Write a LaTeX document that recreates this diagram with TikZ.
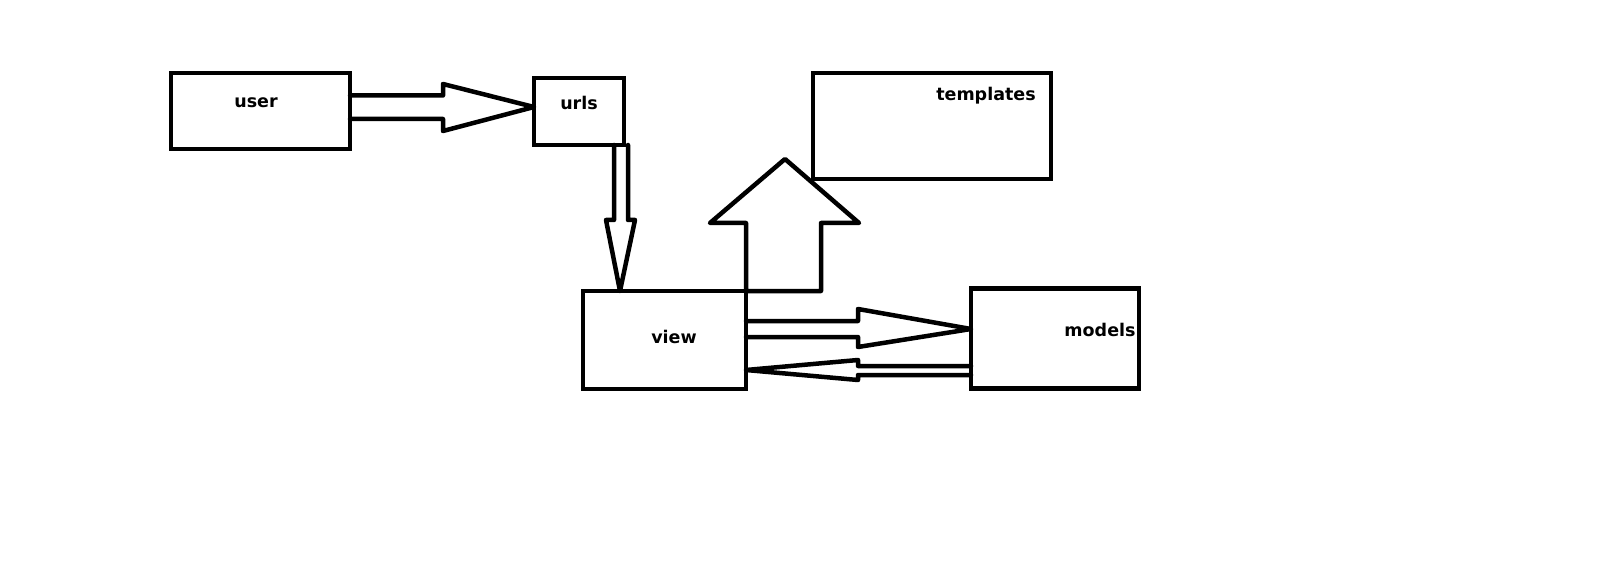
\documentclass[tikz,border=0pt]{standalone}
\usepackage{fontspec}
\setmainfont{DejaVu Sans}
\usetikzlibrary{calc}
\begin{document}
\begin{tikzpicture}[x=1pt,y=-1pt,
  box/.style={draw=black,line width=4.5pt,inner sep=0pt,outer sep=0pt,rectangle},
  lbl/.style={anchor=base,inner sep=0pt,font=\bfseries\fontsize{17.5}{20}\selectfont},
  fatarrow/.style={draw=black,line width=4.5pt,line join=round,line cap=round}]
\useasboundingbox (0,0) rectangle (1614,564);
\fill[white] (0,0) rectangle (1614,564);
% boxes
\node[box,minimum width=179pt,minimum height=76pt] (user) at (260.5,111) {};
\node[box,minimum width=90pt,minimum height=67pt] (urls) at (579,111.5) {};
\node[box,minimum width=238pt,minimum height=106pt] (templates) at (932,126) {};
\node[box,minimum width=163pt,minimum height=98pt] (view) at (664.5,340) {};
\node[box,minimum width=168pt,minimum height=100pt] (models) at (1055,338.5) {};
% labels
\node[lbl] (userlbl) at (256,108) {user};
\node[lbl] (urlslbl) at (579,110) {urls};
\node[lbl] (templateslbl) at (986,101) {templates};
\node[lbl] (viewlbl) at (674,343) {view};
\node[lbl] (modelslbl) at (1100,336) {models};
% user -> urls
\draw[fatarrow] (user.east |- 0,95.5) -- (443,95.5) -- (443,84) -- (urls.west |- 0,107)
  -- (443,131) -- (443,119) -- (user.east |- 0,119);
% urls -> view
\draw[fatarrow] (614,0 |- urls.south) -- (614,220) -- (606,220) -- (620,0 |- view.north)
  -- (635,220) -- (628,220) -- (628,0 |- urls.south);
% view -> templates
\draw[fatarrow] (view.north east) -- (746,223) -- (710,223) -- (785,159) -- (859,223)
  -- (821,223) -- (821,0 |- view.north) -- (view.north east);
% view -> models
\draw[fatarrow] (view.east |- 0,321) -- (858,321) -- (858,309) -- (models.west |- 0,329)
  -- (858,347) -- (858,337) -- (view.east |- 0,337);
% models -> view
\draw[fatarrow] (models.west |- 0,366) -- (858,366) -- (858,360) -- (view.east |- 0,370)
  -- (858,380) -- (858,375) -- (models.west |- 0,375);
\end{tikzpicture}
\end{document}
